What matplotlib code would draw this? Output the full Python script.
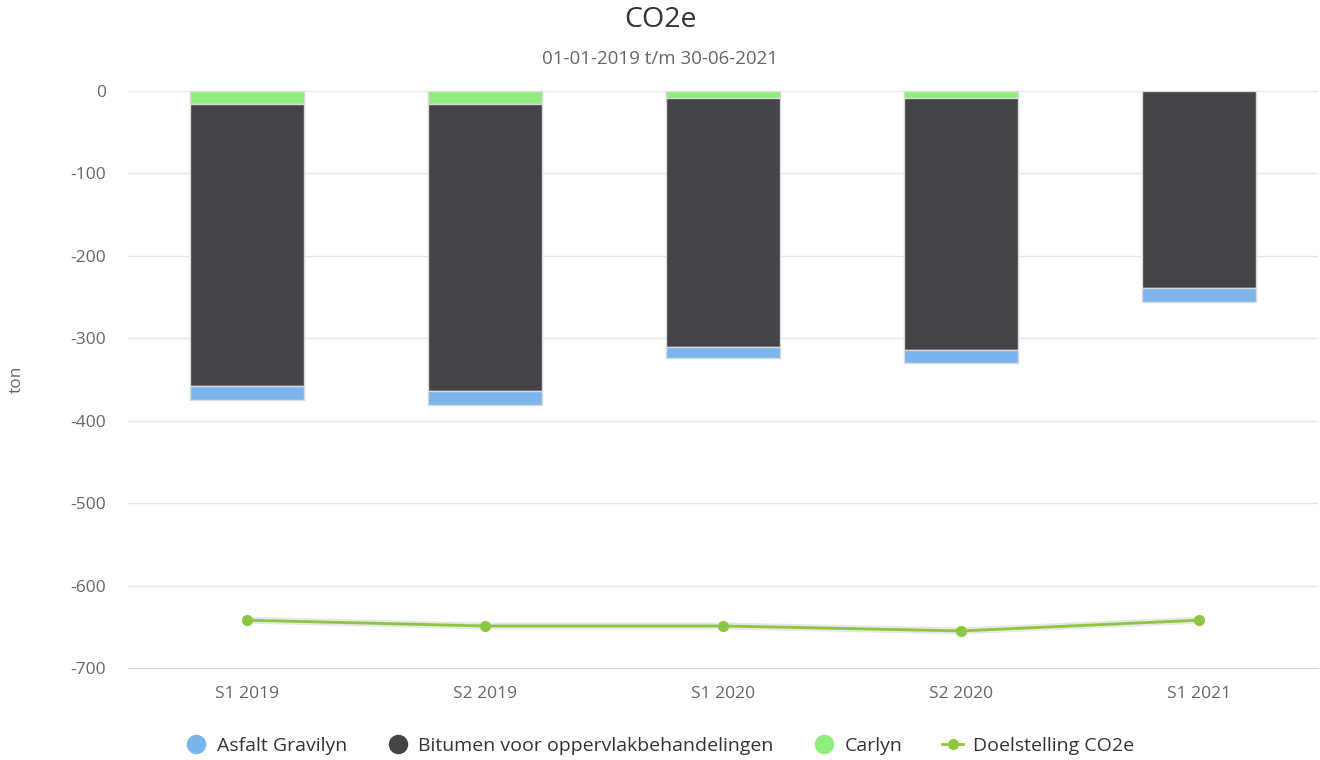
import numpy as np
import matplotlib.pyplot as plt
from matplotlib.lines import Line2D

plt.rcParams['font.family'] = ['Open Sans', 'DejaVu Sans']

# data (ton CO2e, negative = reduction)
periods = ["S1 2019", "S2 2019", "S1 2020", "S2 2020", "S1 2021"]
carlyn = [-16, -16, -8.5, -8.5, 0]
bitumen = [-342, -348, -302, -306, -239]
asfalt = [-17, -17, -13, -15, -17]
target = [-642, -649, -649, -655, -642]

c_asfalt = '#7cb5ec'
c_bitumen = '#434348'
c_carlyn = '#90ed7d'
c_target = '#8dc63f'

fig = plt.figure(figsize=(13.2, 7.6), dpi=100)
ax = fig.add_axes([128 / 1320, 1 - 668 / 760, (1318 - 128) / 1320, (668 - 91) / 760])

x = np.arange(len(periods))
w = 0.48
carlyn = np.array(carlyn)
bitumen = np.array(bitumen)
asfalt = np.array(asfalt)

ax.bar(x, carlyn, w, color=c_carlyn, edgecolor='#d9d9d9', linewidth=1, zorder=3)
ax.bar(x, bitumen, w, bottom=carlyn, color=c_bitumen, edgecolor='#d9d9d9', linewidth=1, zorder=3)
ax.bar(x, asfalt, w, bottom=carlyn + bitumen, color=c_asfalt, edgecolor='#d9d9d9', linewidth=1, zorder=3)

# target line with soft shadow
ax.plot(x, target, color='#bbbbbb', linewidth=5, alpha=0.35, zorder=3)
ax.plot(x, target, color=c_target, linewidth=2, marker='o', markersize=8,
        markeredgewidth=0, zorder=4)

ax.set_xlim(-0.5, len(periods) - 0.5)
ax.set_ylim(-700, 0)
ax.set_yticks(np.arange(-700, 1, 100))
ax.set_yticklabels([str(v) for v in range(-700, 1, 100)])
ax.set_xticks(x)
ax.set_xticklabels(periods)
ax.grid(axis='y', color='#e6e6e6', linewidth=1, zorder=0)
ax.set_axisbelow(True)
for s in ['top', 'right', 'left']:
    ax.spines[s].set_visible(False)
ax.spines['bottom'].set_color('#ccd6eb')
ax.tick_params(axis='both', length=0, colors='#666666', labelsize=12.5)
ax.tick_params(axis='x', pad=13)
ax.tick_params(axis='y', pad=16)
ax.set_ylabel('ton', color='#666666', fontsize=12.5)
ax.yaxis.set_label_coords(-0.087, 0.5)

fig.text(0.5, 1 - 20 / 760, 'CO2e', ha='center', va='center', fontsize=20.5, color='#333333')
fig.text(0.5, 1 - 59 / 760, '01-01-2019 t/m 30-06-2021', ha='center', va='center',
         fontsize=13.5, color='#666666')

handles = [
    Line2D([], [], linestyle='none', marker='o', markersize=13, color=c_asfalt),
    Line2D([], [], linestyle='none', marker='o', markersize=13, color=c_bitumen),
    Line2D([], [], linestyle='none', marker='o', markersize=13, color=c_carlyn),
    Line2D([], [], color=c_target, linewidth=2, marker='o', markersize=7),
]
labels = ['Asfalt Gravilyn', 'Bitumen voor oppervlakbehandelingen', 'Carlyn', 'Doelstelling CO2e']
fig.legend(handles, labels, loc='center', bbox_to_anchor=(0.5, 1 - 746 / 760), ncol=4,
           frameon=False, fontsize=14, labelcolor='#333333', handlelength=1.1,
           handletextpad=0.5, columnspacing=2.05)

fig.savefig('out.png', dpi=100)
